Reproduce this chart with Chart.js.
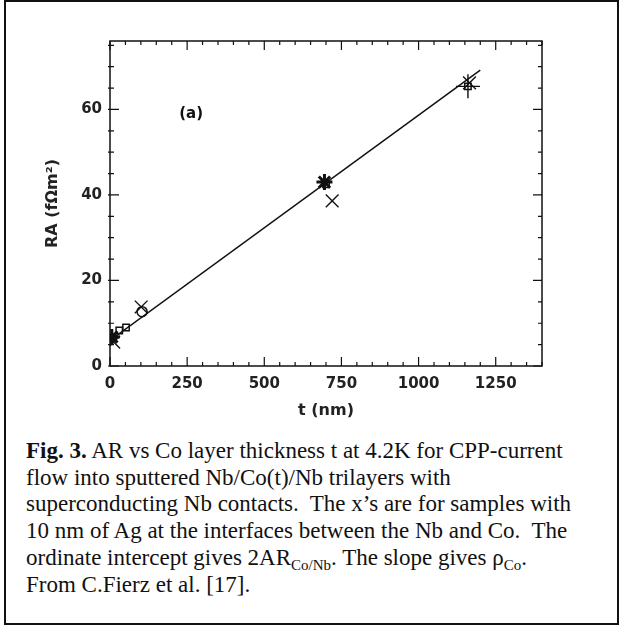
<!DOCTYPE html>
<html><head><meta charset="utf-8">
<script src="https://cdn.jsdelivr.net/npm/chart.js@4.4.1/dist/chart.umd.min.js"></script>
<style>
html,body{margin:0;padding:0;background:#fff;width:621px;height:626px;overflow:hidden;}
#frame{position:absolute;left:4px;top:0px;width:611px;height:621px;border:2px solid #111;}
#wrap{position:absolute;left:0;top:0;width:621px;height:424px;}
#cap{position:absolute;left:26px;top:438px;width:595px;font-family:"Liberation Serif","Times New Roman",serif;font-size:23px;line-height:26.7px;color:#111;white-space:nowrap;}
#cap sub{font-size:15px;vertical-align:-5px;line-height:0;}
</style></head><body>
<div id="frame"></div>
<div id="wrap"><canvas id="c" width="621" height="424"></canvas></div>
<div id="cap"><b>Fig. 3.</b> AR vs Co layer thickness t at 4.2K for CPP-current<br>flow into sputtered Nb/Co(t)/Nb trilayers with<br>superconducting Nb contacts.&nbsp; The x’s are for samples with<br>10 nm of Ag at the interfaces between the Nb and Co.&nbsp; The<br>ordinate intercept gives 2AR<sub>Co/Nb</sub>. The slope gives ρ<sub>Co</sub>.<br>From C.Fierz et al. [17].</div>
<script>
// data
const squareT = [8, 30, 52, 700, 1160];
const squareRA = [6.5, 8.3, 9.0, 42.5, 65.4];
const crossT = [12, 101, 720, 1165];
const crossRA = [5.6, 13.8, 38.6, 66.2];
const starT = [6, 695];
const starRA = [6.8, 43.0];
const circleT = [104];
const circleRA = [12.7];
const plusT = [1160];
const plusRA = [65.4];
const fitT = [0, 1200];
const fitRA = [6.0, 69.2];
const xTickLabels = [0, 250, 500, 750, 1000, 1250];
const yTickLabels = [0, 20, 40, 60];

const pts = (xs, ys) => xs.map((x, i) => ({x: x, y: ys[i]}));
const ink = '#111';

const frameTicks = {
  id: 'frameTicks',
  afterDatasetsDraw(chart) {
    const {ctx, chartArea: a, scales: {x, y}} = chart;
    ctx.save();
    ctx.strokeStyle = ink;
    ctx.lineWidth = 1.5;
    ctx.strokeRect(a.left, a.top, a.right - a.left, a.bottom - a.top);
    ctx.lineWidth = 1.2;
    for (let v = 0; v <= 1400; v += 50) {
      const px = x.getPixelForValue(v);
      if (px > a.right) break;
      const L = v % 250 === 0 ? 9 : 4;
      ctx.beginPath();
      ctx.moveTo(px, a.bottom); ctx.lineTo(px, a.bottom - L);
      ctx.moveTo(px, a.top); ctx.lineTo(px, a.top + L);
      ctx.stroke();
    }
    for (let v = 0; v <= 76; v += 5) {
      const py = y.getPixelForValue(v);
      const L = v % 20 === 0 ? 9 : 4;
      ctx.beginPath();
      ctx.moveTo(a.left - 2, py); ctx.lineTo(a.left + L, py);
      ctx.moveTo(a.right, py); ctx.lineTo(a.right - L, py);
      ctx.stroke();
    }
    ctx.fillStyle = ink;
    ctx.font = 'bold 15px "DejaVu Sans"';
    ctx.textAlign = 'center';
    ctx.textBaseline = 'middle';
    ctx.fillText('(a)', x.getPixelForValue(263), y.getPixelForValue(59));
    ctx.restore();
  }
};

new Chart(document.getElementById('c'), {
  type: 'scatter',
  data: {
    datasets: [
      {data: pts(fitT, fitRA), showLine: true, borderColor: ink, borderWidth: 1.5, pointRadius: 0, order: 5},
      {data: pts(squareT, squareRA), pointStyle: 'rect', pointRadius: 4.5, borderColor: ink, backgroundColor: 'rgba(0,0,0,0)', pointBorderWidth: 1.5},
      {data: pts(crossT, crossRA), pointStyle: 'crossRot', pointRadius: 9, borderColor: ink, pointBorderWidth: 1.4},
      {data: pts(starT, starRA), pointStyle: 'star', pointRadius: 8, borderColor: ink, pointBorderWidth: 3},
      {data: pts(circleT, circleRA), pointStyle: 'circle', pointRadius: 5, borderColor: ink, backgroundColor: 'rgba(0,0,0,0)', pointBorderWidth: 1.5},
      {data: pts(plusT, plusRA), pointStyle: 'cross', pointRadius: 12, borderColor: ink, pointBorderWidth: 1.4}
    ]
  },
  options: {
    responsive: false,
    animation: false,
    layout: {padding: {top: 41, right: 79, left: 40, bottom: 0}},
    plugins: {legend: {display: false}, tooltip: {enabled: false}},
    scales: {
      x: {
        type: 'linear', min: 0, max: 1400,
        grid: {display: false, drawTicks: false},
        border: {display: false},
        ticks: {stepSize: 250, includeBounds: false, padding: 9, color: '#222', font: {family: 'DejaVu Sans', weight: 'bold', size: 15},
          callback: v => xTickLabels.includes(v) ? String(v) : ''},
        title: {display: true, text: 't (nm)', color: '#222', font: {family: 'DejaVu Sans', weight: 'bold', size: 16}, padding: {top: 2, bottom: 4}},
        afterFit: s => { s.height = 58; }
      },
      y: {
        type: 'linear', min: 0, max: 76,
        grid: {display: false, drawTicks: false},
        border: {display: false},
        ticks: {stepSize: 20, includeBounds: false, padding: 8, color: '#222', font: {family: 'DejaVu Sans', weight: 'bold', size: 15},
          callback: v => yTickLabels.includes(v) ? String(v) : ''},
        title: {display: true, text: 'RA (fΩm²)', color: '#222', font: {family: 'DejaVu Sans', weight: 'bold', size: 16}, padding: 3},
        afterFit: s => { s.width = 70; }
      }
    }
  },
  plugins: [frameTicks]
});
</script>
</body></html>
